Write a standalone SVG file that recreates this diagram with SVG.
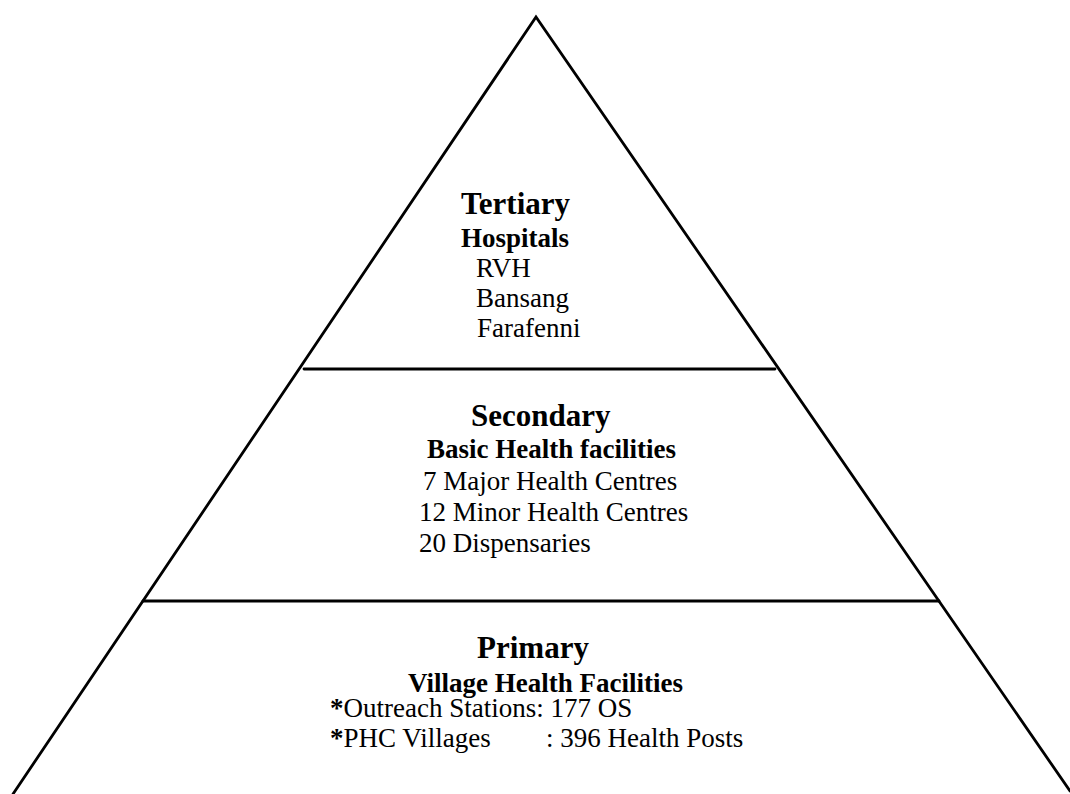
<svg xmlns="http://www.w3.org/2000/svg" width="1070" height="794" viewBox="0 0 1070 794">
  <style>
    .edge { fill: none; stroke: #000; stroke-width: 2.8; stroke-linecap: round; stroke-linejoin: miter; }
    .t { font-family: "Liberation Serif", "Times New Roman", serif; fill: #000; }
    .title { font-size: 31px; font-weight: bold; }
    .sub { font-size: 27px; font-weight: bold; }
    .item { font-size: 27px; }
  </style>
  <rect width="1070" height="794" fill="#fff"/>

  <!-- pyramid outline and tier dividers -->
  <g id="connectors">
    <polyline class="edge" points="13,794 536,17 1070,791"/>
    <line class="edge" x1="304" y1="369" x2="775" y2="369"/>
    <line class="edge" x1="143" y1="601" x2="939" y2="601"/>
  </g>

  <!-- top tier -->
  <g id="tertiary">
    <text class="t title" x="461" y="214">Tertiary</text>
    <text class="t sub" x="461" y="247">Hospitals</text>
    <text class="t item" x="476" y="277">RVH</text>
    <text class="t item" x="476" y="307">Bansang</text>
    <text class="t item" x="477" y="337">Farafenni</text>
  </g>

  <!-- middle tier -->
  <g id="secondary">
    <text class="t title" x="471" y="426">Secondary</text>
    <text class="t sub" x="427" y="458">Basic Health facilities</text>
    <text class="t item" x="423" y="490">7 Major Health Centres</text>
    <text class="t item" x="419" y="521">12 Minor Health Centres</text>
    <text class="t item" x="419" y="552">20 Dispensaries</text>
  </g>

  <!-- bottom tier -->
  <g id="primary">
    <text class="t title" x="477" y="658">Primary</text>
    <text class="t sub" x="408" y="692">Village Health Facilities</text>
    <text class="t item" x="330" y="717"><tspan font-weight="bold">*</tspan>Outreach Stations: 177 OS</text>
    <text class="t item" x="330" y="747"><tspan font-weight="bold">*</tspan>PHC Villages</text>
    <text class="t item" x="546" y="747">: 396 Health Posts</text>
  </g>
</svg>
